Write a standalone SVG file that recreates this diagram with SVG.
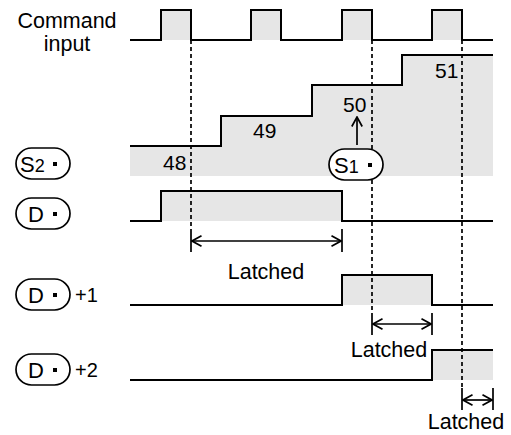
<svg xmlns="http://www.w3.org/2000/svg" width="511" height="435" viewBox="0 0 511 435">
<style>
text{font-family:"Liberation Sans",Arial,sans-serif;fill:#000}
.t{font-size:21px}
.w{fill:none;stroke:#000;stroke-width:2;stroke-linejoin:miter}
.g{fill:#e6e6e6;stroke:none}
.d{fill:none;stroke:#000;stroke-width:1.7;stroke-dasharray:4,3}
.s{fill:none;stroke:#000;stroke-width:1.7}
.cap{fill:#fff;stroke:#000;stroke-width:1.7}
.ah{fill:none;stroke:#000;stroke-width:1.7}
.c{font-size:22px}
.sub{font-size:18px}
.l{font-size:21.5px}
</style>
<defs>
<marker id="oa" viewBox="0 0 12 12" refX="11" refY="6" markerWidth="12" markerHeight="12" markerUnits="userSpaceOnUse" orient="auto-start-reverse">
<path d="M1.5,0.8 L11,6 L1.5,11.2" class="ah"/>
</marker>
</defs>

<g id="command-input">
<text x="67" y="28" text-anchor="middle" class="l">Command</text>
<text x="67" y="51" text-anchor="middle" class="l">input</text>
<path class="g" d="M161,10H191V40H161Z M251,10H281V40H251Z M342,10H372V40H342Z M432,10H462V40H432Z"/>
<path class="w" d="M130,40H161V10H191V40H251V10H281V40H342V10H372V40H432V10H462V40H493"/>
</g>

<g id="s2-row">
<path class="g" d="M130,146H221V116H312V85H402V55H493V176H130Z"/>
<path class="w" d="M130,146H221V116H312V85H402V55H493"/>
<text class="t" x="163" y="170">48</text>
<text class="t" x="253" y="138">49</text>
<text class="t" x="343" y="112">50</text>
<text class="t" x="435" y="78">51</text>
</g>

<g id="s2-label">
<rect class="cap" x="16" y="148" width="54" height="31" rx="15.5"/>
<text x="20" y="172" class="c">S<tspan class="sub">2</tspan></text>
<rect x="53" y="162" width="4" height="4"/>
</g>

<g id="d-row">
<path class="g" d="M161,191H342V221H161Z"/>
<path class="w" d="M130,221H161V191H342V221H493"/>
</g>
<g id="d-label">
<rect class="cap" x="16" y="198" width="54" height="31" rx="15.5"/>
<text x="28" y="222" class="c">D</text>
<rect x="53" y="212" width="4" height="4"/>
</g>

<g id="d1-row">
<path class="g" d="M342,275H432V305H342Z"/>
<path class="w" d="M130,305H342V275H432V305H493"/>
</g>
<g id="d1-label">
<rect class="cap" x="16" y="279" width="54" height="31" rx="15.5"/>
<text x="28" y="303" class="c">D</text>
<rect x="53" y="293" width="4" height="4"/>
<text x="75" y="302" style="font-size:20px">+1</text>
</g>

<g id="d2-row">
<path class="g" d="M432,350H493V380H432Z"/>
<path class="w" d="M130,380H432V350H493"/>
</g>
<g id="d2-label">
<rect class="cap" x="16" y="354" width="54" height="31" rx="15.5"/>
<text x="28" y="378" class="c">D</text>
<rect x="53" y="368" width="4" height="4"/>
<text x="75" y="377" style="font-size:20px">+2</text>
</g>

<g id="connectors">
<path class="d" d="M191,40V228"/>
<path class="d" d="M372,40V312"/>
<path class="d" d="M462,40V388"/>
<path class="s" d="M191,229V252 M342,229V252"/>
<path class="s" d="M192,241H341" marker-start="url(#oa)" marker-end="url(#oa)"/>
<path class="s" d="M372,313V335 M432,313V335"/>
<path class="s" d="M373,324H431" marker-start="url(#oa)" marker-end="url(#oa)"/>
<path class="s" d="M462,388V410 M493,388V410"/>
<path class="s" d="M463,400H492" marker-start="url(#oa)" marker-end="url(#oa)"/>
<path class="s" d="M357,145V117" marker-end="url(#oa)"/>
</g>

<g id="s1-label">
<rect class="cap" x="329" y="149" width="54" height="31" rx="15.5"/>
<text x="334" y="173" class="c">S<tspan class="sub">1</tspan></text>
<rect x="368" y="163" width="4" height="4"/>
</g>

<g id="latched-labels">
<text x="266" y="279" text-anchor="middle" class="l">Latched</text>
<text x="389" y="357" text-anchor="middle" class="l">Latched</text>
<text x="466" y="429" text-anchor="middle" class="l">Latched</text>
</g>
</svg>
